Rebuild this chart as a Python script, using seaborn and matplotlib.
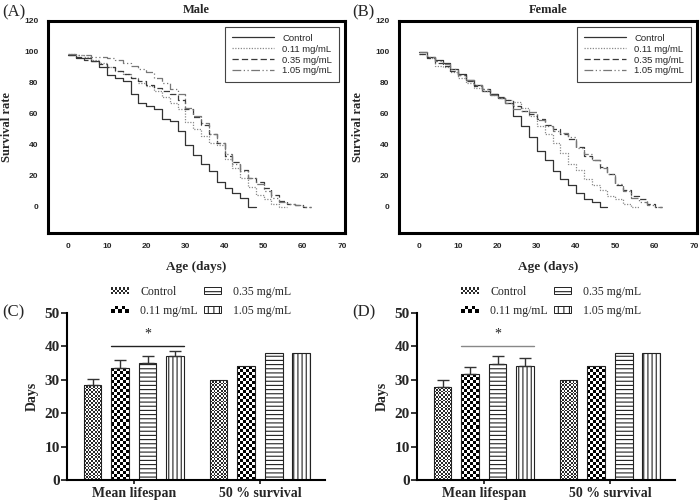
import matplotlib

matplotlib.use("Agg")

import matplotlib.pyplot as plt
import numpy as np
import pandas as pd
import seaborn as sns
from matplotlib.legend_handler import HandlerBase
from matplotlib.patches import Rectangle

# survival curves, one value every 2 days starting at day 0
doses = ["Control", "0.11 mg/mL", "0.35 mg/mL", "1.05 mg/mL"]

male_control = [98, 96, 96, 94, 90, 85, 83, 81, 73, 67, 65, 63, 57, 55.5, 49, 40,
                33.5, 28, 23.5, 16, 12.5, 9, 5.5, 0]
male_011 = [99, 98, 97, 95, 93, 90, 88, 86, 83, 80, 78, 75, 71, 67, 63, 55, 50, 46,
            41, 40, 31, 25, 19, 13, 8, 5, 2, 0]
male_035 = [98, 97, 95, 94, 92, 90, 88, 86, 83, 81, 79, 77, 75, 73, 69, 63, 58, 53,
            47, 41, 33, 29, 24, 19, 16, 12, 8, 4, 2, 1, 0]
male_105 = [99, 98, 98, 97, 97, 96, 95, 93, 91, 89, 87, 83, 80, 76, 73, 64, 59, 54,
            47, 41, 34, 28, 23, 19, 15, 10, 6, 3, 2, 1, 0]

female_control = [100, 97, 95, 93, 89, 86, 82, 79, 75, 73, 70, 67, 59, 52, 45, 36,
                  30, 23, 18, 14, 9, 5, 3, 0]
female_011 = [99, 96, 91, 90, 87, 83, 80, 77, 75, 72, 70, 69, 68, 64, 59, 52, 47, 41,
              35, 28, 24, 18, 14, 11, 7, 5, 2, 0]
female_035 = [99, 96, 93, 91, 88, 85, 81, 78, 76, 73, 71, 69, 65, 62, 60, 57, 53, 50,
              47, 44, 39, 33, 30, 26, 21, 14, 11, 7, 5, 2, 0]
female_105 = [100, 97, 94, 92, 89, 85, 82, 79, 76, 72, 70, 67, 63, 62, 61, 56, 52, 49,
              48, 45, 38, 34, 30, 25, 21, 15, 10, 6, 3, 1, 0]

# lifespan summary
measures = ["Mean lifespan", "50 % survival"]
male_mean = [28.5, 33.5, 35.0, 37.0]
male_mean_err = [1.7, 2.5, 2.0, 1.7]
male_half = [30, 34, 38, 38]
female_mean = [27.8, 31.7, 34.8, 34.2]
female_mean_err = [2.0, 2.0, 2.3, 2.3]
female_half = [30, 34, 38, 38]

SERIF = "Liberation Serif"
SANS = "Liberation Sans"

line_colors = ["#333333", "#8a8a8a", "#3a3a3a", "#777777"]
line_styles = ["-", (0, (1, 1.2)), (0, (5, 2.5)), (0, (7, 2, 1, 2, 1, 2))]


class CheckerHandler(HandlerBase):
    def __init__(self, ncols, nrows, color):
        super().__init__()
        self.ncols = ncols
        self.nrows = nrows
        self.color = color

    def create_artists(self, legend, orig_handle, xdescent, ydescent, width, height, fontsize, trans):
        x0, y0 = -xdescent, -ydescent
        arts = [Rectangle((x0, y0), width, height, facecolor="white", edgecolor="none", transform=trans)]
        cw, ch = width / self.ncols, height / self.nrows
        for i in range(self.ncols):
            for j in range(self.nrows):
                if (i + j) % 2 == 0:
                    arts.append(Rectangle((x0 + i * cw, y0 + j * ch), cw, ch,
                                          facecolor=self.color, edgecolor="none", transform=trans))
        return arts


def draw_survival(ax, series, title):
    for label, vals, color, ls in zip(doses, series, line_colors, line_styles):
        days = np.arange(0, 2 * len(vals) + 1, 2)
        rate = list(vals) + [vals[-1]]
        sns.lineplot(x=days, y=rate, ax=ax, color=color, linestyle=ls, drawstyle="steps-post",
                     linewidth=0.9, label=label, estimator=None, sort=False)
    ax.set_xlim(-5.1, 70.8)
    ax.set_ylim(-16.8, 120)
    ax.set_xticks(range(0, 71, 10))
    ax.set_yticks(range(0, 121, 20))
    ax.tick_params(length=0, labelsize=6, pad=7)
    plt.setp(ax.get_xticklabels() + ax.get_yticklabels(), fontweight="bold", family=SANS)
    for sp in ax.spines.values():
        sp.set_visible(True)
        sp.set_linewidth(2.2)
        sp.set_color("black")
    ax.set_title(title, family=SERIF, fontweight="bold", fontsize=9, pad=6)
    ax.set_xlabel("Age (days)", family=SERIF, fontweight="bold", fontsize=9.5, labelpad=8)
    ax.set_ylabel("Survival rate", family=SERIF, fontweight="bold", fontsize=9, labelpad=8)
    leg = ax.legend(loc="upper right", handlelength=4.4, handletextpad=0.9,
                    labelspacing=0.2, borderpad=0.75, borderaxespad=0.6, fancybox=False, framealpha=1,
                    prop={"family": SANS, "size": 6.8})
    leg.get_frame().set_edgecolor("#444444")
    leg.get_frame().set_linewidth(0.8)


def add_checker(ax, patch, cell_px, color):
    x0, w, h = patch.get_x(), patch.get_width(), patch.get_height()
    (px0, py0), (px1, py1) = ax.transData.transform([(x0, 0), (x0 + w, h)])
    ncols = max(1, int(round((px1 - px0) / cell_px)))
    nrows = max(1, int(round((py1 - py0) / cell_px)))
    grid = (np.add.outer(np.arange(nrows), np.arange(ncols)) % 2).astype(float)
    im = ax.imshow(grid, extent=(x0, x0 + w, 0, h), cmap=matplotlib.colors.ListedColormap([color, "white"]),
                   vmin=0, vmax=1, interpolation="nearest", aspect="auto", zorder=1.5)
    im.set_clip_path(patch)
    patch.set_facecolor("none")
    patch.set_zorder(2)


def draw_bars(ax, mean, mean_err, half, star_color):
    frame = pd.DataFrame({
        "measure": [measures[0]] * 4 + [measures[1]] * 4,
        "dose": doses * 2,
        "days": list(mean) + list(half),
    })
    sns.barplot(data=frame, x="measure", y="days", hue="dose", order=measures, hue_order=doses,
                palette=["white"] * 4, width=0.873, gap=0.36, errorbar=None, legend=False,
                edgecolor="#222222", linewidth=0.8, ax=ax)
    ax.set_xlim(-0.53, 1.516)
    ax.set_ylim(0, 50)
    ax.set_yticks(range(0, 51, 10))

    bars = []
    for container in ax.containers:
        bars.append(sorted(container.patches, key=lambda p: p.get_x()))

    for k, row in enumerate(bars):
        for c, patch in enumerate(row):
            if k == 0:
                add_checker(ax, patch, 1.8, "#2a2a2a")
            elif k == 1:
                add_checker(ax, patch, 3.0, "black")
            elif k == 2:
                patch.set_hatch("----")
            else:
                patch.set_hatch("||||")
        center = row[0].get_x() + row[0].get_width() / 2
        ax.errorbar(center, mean[k], yerr=[[0], [mean_err[k]]], fmt="none", ecolor="#333333",
                    elinewidth=1, capsize=4, capthick=1, zorder=3)
    ax.set_xlim(-0.53, 1.516)
    ax.set_ylim(0, 50)

    left = bars[1][0].get_x()
    right = bars[3][0].get_x() + bars[3][0].get_width()
    ax.plot([left, right], [40.2, 40.2], color=star_color, linewidth=1)
    ax.text((left + right) / 2, 42.6, "*", ha="center", va="baseline", fontsize=10,
            family=SERIF, color="#222222")

    sns.despine(ax=ax)
    ax.spines["left"].set_linewidth(1.5)
    ax.spines["bottom"].set_linewidth(1.5)
    ax.spines["left"].set_color("black")
    ax.spines["bottom"].set_color("black")
    ax.tick_params(axis="y", direction="out", length=4, width=1.3, labelsize=11, pad=1, left=True)
    ax.tick_params(axis="x", direction="out", length=3, width=1.3, labelsize=10, pad=2, bottom=True)
    plt.setp(ax.get_xticklabels() + ax.get_yticklabels(), fontweight="bold", family=SERIF)
    ax.set_xlabel("")
    ax.set_ylabel("Days", family=SERIF, fontweight="bold", fontsize=10, labelpad=4)

    h_ctrl = Rectangle((0, 0), 1, 1)
    h_low = Rectangle((0, 0), 1, 1)
    h_mid = Rectangle((0, 0), 1, 1, facecolor="white", edgecolor="#222222", linewidth=0.7, hatch="---")
    h_high = Rectangle((0, 0), 1, 1, facecolor="white", edgecolor="#222222", linewidth=0.7, hatch="|||")
    ax.legend([h_ctrl, h_low, h_mid, h_high], doses, ncol=2, loc="center",
              bbox_to_anchor=(0.52, 1.07), frameon=False, handlelength=1.45, handleheight=0.55,
              handletextpad=1.0, columnspacing=0.5, labelspacing=0.55, borderaxespad=0,
              prop={"family": SERIF, "size": 8.5},
              handler_map={h_ctrl: CheckerHandler(9, 3, "#2a2a2a"), h_low: CheckerHandler(5, 2, "black")})


sns.set_theme(style="white")
plt.rcParams["font.family"] = [SERIF, "DejaVu Sans"]
plt.rcParams["hatch.linewidth"] = 0.8

fig = plt.figure(figsize=(7, 5.01), dpi=100)
ax_a = fig.add_axes([0.0686, 0.5349, 0.4243, 0.4232])
ax_b = fig.add_axes([0.570, 0.5349, 0.4257, 0.4232])
ax_c = fig.add_axes([0.0957, 0.0419, 0.3686, 0.3333])
ax_d = fig.add_axes([0.5957, 0.0419, 0.3686, 0.3333])

draw_survival(ax_a, [male_control, male_011, male_035, male_105], "Male")
draw_survival(ax_b, [female_control, female_011, female_035, female_105], "Female")
draw_bars(ax_c, male_mean, male_mean_err, male_half, "#222222")
draw_bars(ax_d, female_mean, female_mean_err, female_half, "#888888")

for x, y, tag in [(0.003, 0.976, "(A)"), (0.503, 0.976, "(B)"), (0.003, 0.377, "(C)"), (0.503, 0.377, "(D)")]:
    fig.text(x, y, tag, family=SERIF, fontsize=12, va="center", ha="left")

fig.savefig("out.png", dpi=100)
